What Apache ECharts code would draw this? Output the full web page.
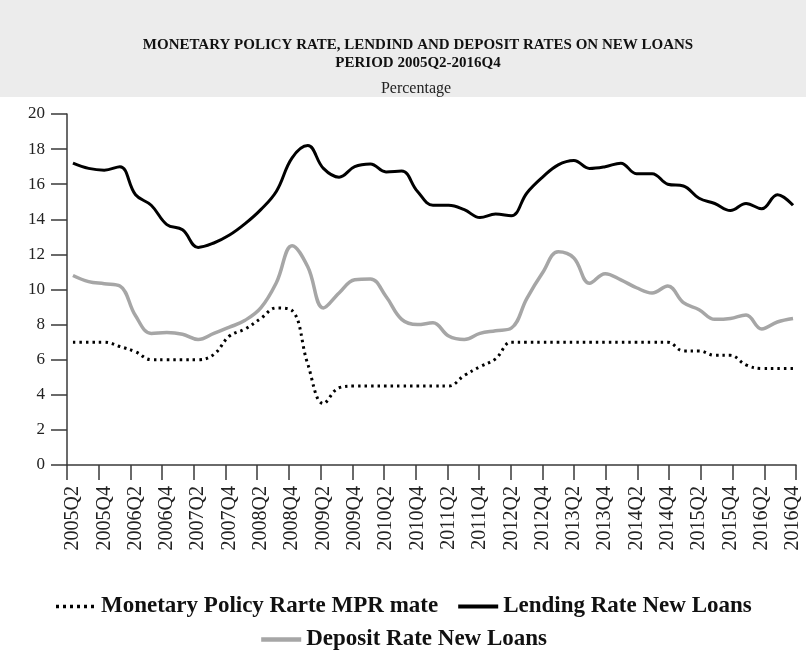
<!DOCTYPE html>
<html>
<head>
<meta charset="utf-8">
<script src="https://cdn.jsdelivr.net/npm/echarts@6/dist/echarts.min.js"></script>
<style>
  html, body { margin: 0; padding: 0; background: #fff; }
  #chart { width: 806px; height: 653px; }
</style>
</head>
<body>
<div id="chart"></div>
<script>
// quarters 2005Q2 - 2016Q4
const quarters = [
  "2005Q2", "2005Q3", "2005Q4",
  "2006Q1", "2006Q2", "2006Q3", "2006Q4",
  "2007Q1", "2007Q2", "2007Q3", "2007Q4",
  "2008Q1", "2008Q2", "2008Q3", "2008Q4",
  "2009Q1", "2009Q2", "2009Q3", "2009Q4",
  "2010Q1", "2010Q2", "2010Q3", "2010Q4",
  "2011Q1", "2011Q2", "2011Q3", "2011Q4",
  "2012Q1", "2012Q2", "2012Q3", "2012Q4",
  "2013Q1", "2013Q2", "2013Q3", "2013Q4",
  "2014Q1", "2014Q2", "2014Q3", "2014Q4",
  "2015Q1", "2015Q2", "2015Q3", "2015Q4",
  "2016Q1", "2016Q2", "2016Q3", "2016Q4"
];

const mprRate = [
  7.0, 7.0, 7.0, 6.75, 6.45, 6.0, 6.0, 6.0, 6.0, 6.3, 7.35, 7.75,
  8.35, 8.95, 8.8, 5.75, 3.5, 4.4, 4.5, 4.5, 4.5, 4.5, 4.5, 4.5,
  4.5, 5.1, 5.6, 6.05, 7.0, 7.0, 7.0, 7.0, 7.0, 7.0, 7.0, 7.0,
  7.0, 7.0, 7.0, 6.5, 6.5, 6.25, 6.25, 5.7, 5.5, 5.5, 5.5
];

const lendingRate = [
  17.2, 16.9, 16.8, 17.0, 15.4, 14.8, 13.7, 13.4, 12.4, 12.65, 13.1, 13.75,
  14.55, 15.6, 17.5, 18.2, 16.9, 16.4, 17.0, 17.15, 16.7, 16.75, 15.6, 14.8,
  14.8, 14.55, 14.1, 14.3, 14.2, 15.5, 16.4, 17.1, 17.35, 16.9, 17.0, 17.2,
  16.6, 16.6, 16.0, 15.9, 15.2, 14.9, 14.5, 14.9, 14.6, 15.4, 14.8
];

const depositRate = [
  10.8, 10.45, 10.33, 10.2, 8.5, 7.5, 7.55, 7.45, 7.15, 7.5, 7.85, 8.25,
  8.95, 10.4, 12.5, 11.3, 8.95, 9.8, 10.55, 10.6, 9.6, 8.3, 8.0, 8.1,
  7.35, 7.15, 7.5, 7.65, 7.8, 9.5, 10.95, 12.15, 11.8, 10.35, 10.9, 10.55,
  10.1, 9.8, 10.2, 9.25, 8.85, 8.3, 8.35, 8.55, 7.75, 8.15, 8.35
];

const seriesNames = [
  "Monetary Policy Rarte MPR mate",
  "Lending Rate New Loans",
  "Deposit Rate New Loans"
];

const chart = echarts.init(document.getElementById("chart"));

// axis runs a little past the first / last quarter, like the original
const xMin = -0.38;
const xMax = 46.19;
// labels every second quarter
const labelValues = quarters.map((q, i) => i).filter(i => i % 2 === 0);
// ticks spread evenly over the whole axis
const tickValues = labelValues.map((v, k) => xMin + k * (xMax - xMin) / (labelValues.length - 1));

const serif = "'Liberation Serif', 'DejaVu Serif', serif";
const axisColor = "#3a3a3a";

const legendText = { fontFamily: serif, fontWeight: "bold", fontSize: 23, color: "#111" };

const option = {
  backgroundColor: "#fff",
  animation: false,
  graphic: [
    {
      type: "rect",
      z: -10,
      shape: { x: 0, y: 0, width: 806, height: 97 },
      style: { fill: "#ececec" }
    }
  ],
  title: [
    {
      text: "MONETARY POLICY RATE, LENDIND AND DEPOSIT RATES ON NEW LOANS\nPERIOD 2005Q2-2016Q4",
      left: 413,
      top: 31,
      textAlign: "center",
      textStyle: {
        fontFamily: serif,
        fontWeight: "bold",
        fontSize: 15,
        lineHeight: 18,
        color: "#111"
      }
    },
    {
      text: "Percentage",
      left: 411,
      top: 75,
      textAlign: "center",
      textStyle: {
        fontFamily: serif,
        fontWeight: "normal",
        fontSize: 16,
        lineHeight: 18,
        color: "#222"
      }
    }
  ],
  legend: [
    {
      data: [
        { name: seriesNames[0], lineStyle: { width: 3.5, type: [3, 4] } },
        { name: seriesNames[1], lineStyle: { width: 4 } }
      ],
      top: 590,
      left: "center",
      itemWidth: 40,
      itemHeight: 14,
      itemGap: 18,
      // hide the symbol dot, keep only the line
      itemStyle: { opacity: 0 },
      textStyle: legendText
    },
    {
      data: [{ name: seriesNames[2], lineStyle: { width: 4.5 } }],
      top: 623,
      left: "center",
      itemWidth: 40,
      itemHeight: 14,
      itemStyle: { opacity: 0 },
      textStyle: legendText
    }
  ],
  grid: {
    left: 67,
    right: 10,
    top: 114,
    bottom: 188,
    containLabel: false
  },
  xAxis: {
    type: "value",
    min: xMin,
    max: xMax,
    splitLine: { show: false },
    axisLine: { show: true, onZero: false, lineStyle: { color: axisColor, width: 1.5 } },
    axisTick: {
      show: true,
      length: 15,
      customValues: tickValues,
      lineStyle: { color: axisColor, width: 1.5 }
    },
    axisLabel: {
      customValues: labelValues,
      rotate: 90,
      margin: 21,
      fontFamily: serif,
      fontSize: 20,
      color: "#222",
      formatter: (v) => quarters[Math.round(v)]
    }
  },
  yAxis: {
    type: "value",
    min: 0,
    max: 20,
    interval: 2,
    splitLine: { show: false },
    axisLine: { show: true, onZero: false, lineStyle: { color: axisColor, width: 1.5 } },
    axisTick: { show: true, length: 16, lineStyle: { color: axisColor, width: 1.5 } },
    axisLabel: {
      margin: 22,
      fontFamily: serif,
      fontSize: 17,
      color: "#222"
    }
  },
  series: [
    {
      name: seriesNames[0],
      type: "line",
      smooth: 0.4,
      symbol: "none",
      data: mprRate.map((v, i) => [i, v]),
      lineStyle: { color: "#000", width: 3, type: [2.5, 4] },
      itemStyle: { color: "#000" },
      z: 3
    },
    {
      name: seriesNames[1],
      type: "line",
      smooth: 0.4,
      symbol: "none",
      data: lendingRate.map((v, i) => [i, v]),
      lineStyle: { color: "#000", width: 3 },
      itemStyle: { color: "#000" },
      z: 2
    },
    {
      name: seriesNames[2],
      type: "line",
      smooth: 0.4,
      symbol: "none",
      data: depositRate.map((v, i) => [i, v]),
      lineStyle: { color: "#a6a6a6", width: 3.5 },
      itemStyle: { color: "#a6a6a6" },
      z: 2
    }
  ]
};

chart.setOption(option);
window.addEventListener("resize", () => chart.resize());
</script>
</body>
</html>
